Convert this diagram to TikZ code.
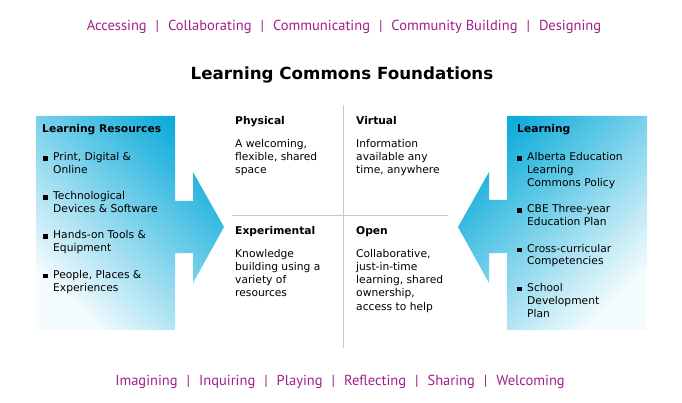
\documentclass[tikz,border=0pt]{standalone}
\usepackage{fontspec}
\setmainfont{DejaVu Sans}
\newfontfamily\themefont{PT Sans}
\usetikzlibrary{positioning}

\definecolor{lcblue}{RGB}{14,172,218}
\definecolor{lcmagenta}{RGB}{163,30,140}
\definecolor{lcgray}{RGB}{200,200,200}

\newcommand{\blt}{\rule{4.5pt}{4.5pt}\hspace{5.5pt}}
\newcommand{\itm}[1]{\blt\begin{tabular}[t]{@{}l@{}}#1\end{tabular}}
\newcommand{\lines}[1]{\begin{tabular}[t]{@{}l@{}}#1\end{tabular}}
\newcommand{\sepbar}{\hspace{9pt}|\hspace{9pt}}

\begin{document}
\begin{tikzpicture}[x=1pt,y=-1pt]
			\tikzstyle{Theme}	= [anchor=base, inner sep=0pt, text=lcmagenta, font=\themefont\fontsize{14.5}{18}\selectfont]
			\tikzstyle{Title}	= [anchor=base, inner sep=0pt, font=\bfseries\fontsize{16.7}{19}\selectfont]
			\tikzstyle{Head}	= [anchor=base west, inner sep=0pt, font=\bfseries\fontsize{10.7}{13}\selectfont]
			\tikzstyle{Body}	= [anchor=base west, inner sep=0pt, font=\fontsize{10.7}{13}\selectfont]
			\tikzstyle{Divider}	= [lcgray, line width=1pt]
			\tikzstyle{ToRight}	= [top color=lcblue, middle color=lcblue!68, bottom color=lcblue!4, shading angle=-45]
			\tikzstyle{ToLeft}	= [top color=lcblue, middle color=lcblue!68, bottom color=lcblue!4, shading angle=45]

			\useasboundingbox (0,0) rectangle (682,403);

			% themes
			\node (t0) at (344,31) [Theme] {Accessing\sepbar Collaborating\sepbar Communicating\sepbar Community Building\sepbar Designing};
			\node (t1) at (340,385) [Theme] {Imagining\sepbar Inquiring\sepbar Playing\sepbar Reflecting\sepbar Sharing\sepbar Welcoming};
			\node (title) at (342,80) [Title] {Learning Commons Foundations};

			% arrows
			\shade [ToRight] (36,116) -- (175,116) -- (175,201) -- (193,201) -- (193,172) -- (224,227)
				-- (193,283) -- (193,253) -- (175,253) -- (175,330) -- (36,330) -- cycle;
			\shade [ToLeft] (647,116) -- (507,116) -- (507,200) -- (489,200) -- (489,172) -- (458,227)
				-- (489,283) -- (489,253) -- (507,253) -- (507,330) -- (647,330) -- cycle;

			\node (r0) at (42,133) [Head] {Learning Resources};
			\node (r1) at (43,161) [Body] {\itm{Print, Digital \&\\Online}};
			\node (r2) at (43,200) [Body] {\itm{Technological\\Devices \& Software}};
			\node (r3) at (43,239) [Body] {\itm{Hands-on Tools \&\\Equipment}};
			\node (r4) at (43,278) [Body] {\itm{People, Places \&\\Experiences}};

			\node (l0) at (517,133) [Head] {Learning};
			\node (l1) at (517,161) [Body] {\itm{Alberta Education\\Learning\\Commons Policy}};
			\node (l2) at (517,213) [Body] {\itm{CBE Three-year\\Education Plan}};
			\node (l3) at (517,252) [Body] {\itm{Cross-curricular\\Competencies}};
			\node (l4) at (517,291) [Body] {\itm{School\\Development\\Plan}};

			% quadrants
			\coordinate (vt) at (343,105);
			\coordinate (vb) at (343,348);
			\coordinate (hl) at (232,216);
			\coordinate (hr) at (448,216);
			\draw (vt) -- (vb) [Divider];
			\draw (hl) -- (hr) [Divider];

			\node (q0) at (235,125) [Head] {Physical};
			\node (q0t) at (235,148) [Body] {\lines{A welcoming,\\flexible, shared\\space}};
			\node (q1) at (356,125) [Head] {Virtual};
			\node (q1t) at (356,148) [Body] {\lines{Information\\available any\\time, anywhere}};
			\node (q2) at (235,235) [Head] {Experimental};
			\node (q2t) at (235,258) [Body] {\lines{Knowledge\\building using a\\variety of\\resources}};
			\node (q3) at (356,235) [Head] {Open};
			\node (q3t) at (356,258) [Body] {\lines{Collaborative,\\just-in-time\\learning, shared\\ownership,\\access to help}};
		\end{tikzpicture}
\end{document}
